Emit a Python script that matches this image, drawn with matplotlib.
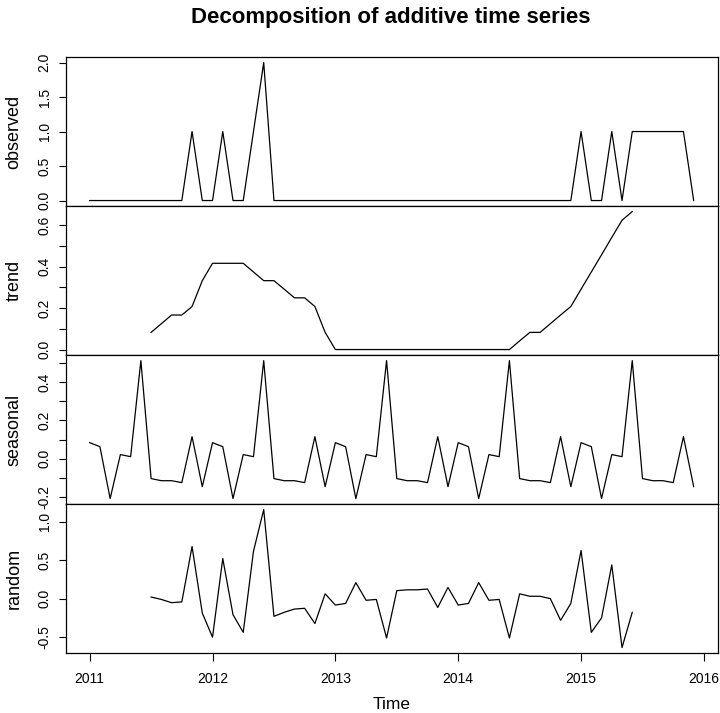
import numpy as np
import matplotlib
matplotlib.use("Agg")
import matplotlib.pyplot as plt

plt.rcParams["font.family"] = ["Liberation Sans", "DejaVu Sans"]

# monthly series, Jan 2011 .. Dec 2015
start_year = 2011
observed = [0, 0, 0, 0, 0, 0, 0, 0, 0, 0, 1, 0,
            0, 1, 0, 0, 1, 2, 0, 0, 0, 0, 0, 0,
            0, 0, 0, 0, 0, 0, 0, 0, 0, 0, 0, 0,
            0, 0, 0, 0, 0, 0, 0, 0, 0, 0, 0, 0,
            1, 0, 0, 1, 0, 1, 1, 1, 1, 1, 1, 0]

# trend / random only defined from Jul 2011 to Jun 2015
trend = [0.083, 0.125, 0.167, 0.167, 0.208, 0.333,
         0.417, 0.417, 0.417, 0.417, 0.375, 0.333,
         0.333, 0.292, 0.250, 0.250, 0.208, 0.083,
         0.000, 0.000, 0.000, 0.000, 0.000, 0.000,
         0.000, 0.000, 0.000, 0.000, 0.000, 0.000,
         0.000, 0.000, 0.000, 0.000, 0.000, 0.000,
         0.042, 0.083, 0.083, 0.125, 0.167, 0.208,
         0.292, 0.375, 0.458, 0.542, 0.625, 0.667]

seasonal_month = [0.084, 0.063, -0.207, 0.022, 0.011, 0.511,
                  -0.103, -0.114, -0.114, -0.124, 0.115, -0.145]

random_part = [0.020, -0.011, -0.053, -0.043, 0.676, -0.188,
               -0.501, 0.520, -0.209, -0.438, 0.614, 1.155,
               -0.230, -0.178, -0.136, -0.126, -0.324, 0.062,
               -0.084, -0.063, 0.207, -0.022, -0.011, -0.511,
               0.103, 0.114, 0.114, 0.124, -0.115, 0.145,
               -0.084, -0.063, 0.207, -0.022, -0.011, -0.511,
               0.062, 0.030, 0.030, -0.001, -0.282, -0.063,
               0.624, -0.438, -0.251, 0.437, -0.636, -0.178]

t_all = start_year + np.arange(len(observed)) / 12
t_mid = t_all[6:6 + len(trend)]
seasonal = np.tile(seasonal_month, len(observed) // 12)

panels = [
    ("observed", t_all, observed, [0.0, 0.5, 1.0, 1.5, 2.0],
     ["0.0", "0.5", "1.0", "1.5", "2.0"]),
    ("trend", t_mid, trend, [0.0, 0.1, 0.2, 0.3, 0.4, 0.5, 0.6],
     ["0.0", "", "0.2", "", "0.4", "", "0.6"]),
    ("seasonal", t_all, seasonal, [-0.2, -0.1, 0.0, 0.1, 0.2, 0.3, 0.4, 0.5],
     ["-0.2", "", "0.0", "", "0.2", "", "0.4", ""]),
    ("random", t_mid, random_part, [-0.5, 0.0, 0.5, 1.0],
     ["-0.5", "0.0", "0.5", "1.0"]),
]

fig, axes = plt.subplots(4, 1, figsize=(7.2, 7.13), dpi=100, sharex=True)
fig.subplots_adjust(left=0.091, right=0.997, top=0.920, bottom=0.084, hspace=0)

for ax, (name, t, y, yt, ytl) in zip(axes, panels):
    y = np.asarray(y, dtype=float)
    ax.plot(t, y, color="black", lw=0.9)
    lo, hi = y.min(), y.max()
    pad = 0.04 * (hi - lo)
    ax.set_ylim(lo - pad, hi + pad)
    ax.set_yticks(yt)
    ax.set_yticklabels(ytl, rotation=90, va="center", fontsize=10)
    ax.set_ylabel(name, fontsize=13)
    ax.yaxis.set_label_coords(-0.066, 0.5)
    ax.tick_params(axis="y", direction="out", length=5, width=0.8, pad=5)
    ax.tick_params(axis="x", bottom=False, labelbottom=False)
    for s in ax.spines.values():
        s.set_linewidth(0.9)

span = t_all[-1] - t_all[0]
axes[-1].set_xlim(t_all[0] - 0.04 * span, t_all[-1] + 0.04 * span)
axes[-1].set_xticks(np.arange(2011, 2017))
axes[-1].tick_params(axis="x", bottom=True, labelbottom=True, direction="out",
                     length=5.5, width=0.8, pad=8, labelsize=10)
axes[-1].set_xlabel("Time", fontsize=12.5, labelpad=8)

fig.suptitle("Decomposition of additive time series", fontsize=16,
             fontweight="bold", x=0.543, y=0.99)

fig.savefig("out.png", dpi=100)
